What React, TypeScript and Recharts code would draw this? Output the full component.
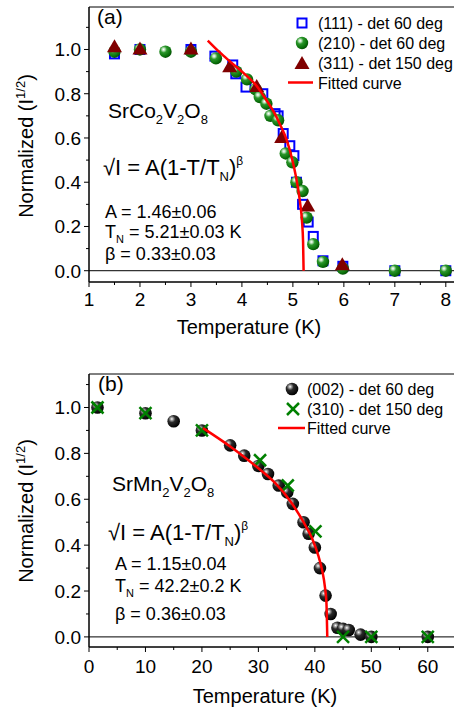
import React from "react";
import { ComposedChart, Scatter, Line, XAxis, YAxis, ReferenceLine, ReferenceArea } from "recharts";

const FONT = '"Liberation Sans", Arial, sans-serif';

// (a) SrCo2V2O8
const co111T = [1.5, 2, 3, 3.47, 3.82, 3.88, 4.08, 4.41, 4.65, 4.71, 4.81, 4.94, 5.02, 5.07, 5.19, 5.3, 5.4, 5.59, 5.98, 7, 8];
const co111V = [0.98, 1.0, 1.0, 0.97, 0.93, 0.89, 0.83, 0.8, 0.71, 0.7, 0.62, 0.565, 0.52, 0.4, 0.3, 0.22, 0.155, 0.045, 0.02, 0.0, 0.0];
const co210T = [1.5, 2, 2.5, 3, 3.49, 3.89, 4.1, 4.27, 4.35, 4.48, 4.56, 4.71, 4.86, 4.99, 5.07, 5.19, 5.27, 5.4, 5.59, 5.98, 7, 8];
const co210V = [0.99, 1.0, 0.99, 0.99, 0.96, 0.9, 0.865, 0.82, 0.785, 0.755, 0.7, 0.68, 0.53, 0.49, 0.4, 0.36, 0.24, 0.12, 0.04, 0.01, 0.0, 0.0];
const co311T = [1.5, 2, 3, 3.76, 4.29, 4.78, 5.29, 5.97];
const co311V = [1.01, 1.0, 1.0, 0.92, 0.83, 0.6, 0.29, 0.025];
const coFitT = [3.33, 3.55, 3.77, 4.05, 4.29, 4.47, 4.62, 4.75, 4.88, 5.0, 5.08, 5.14, 5.18, 5.2, 5.21];
const coFitV = [1.04, 0.99, 0.945, 0.89, 0.835, 0.775, 0.72, 0.66, 0.59, 0.49, 0.4, 0.31, 0.22, 0.13, 0.0];

// (b) SrMn2V2O8
const mn002T = [1.5, 10, 15, 20, 25, 27.5, 30, 31.7, 33.6, 35.1, 36.1, 38, 38.9, 40, 40.9, 41.9, 42.8, 44, 45, 46, 48.1, 50, 60];
const mn002V = [1.0, 0.975, 0.94, 0.9, 0.835, 0.79, 0.745, 0.71, 0.66, 0.63, 0.58, 0.5, 0.45, 0.39, 0.3, 0.18, 0.1, 0.04, 0.035, 0.03, 0.01, 0.0, 0.0];
const mn310T = [1.5, 10, 20, 30.3, 35.2, 40.1, 45, 50, 60];
const mn310V = [1.0, 0.975, 0.9, 0.77, 0.66, 0.46, 0.0, 0.0, 0.0];
const mnFitT = [20.2, 25, 30, 33, 35.7, 38, 39.5, 40.6, 41.3, 41.8, 42.05, 42.2];
const mnFitV = [0.91, 0.83, 0.735, 0.67, 0.59, 0.5, 0.43, 0.355, 0.29, 0.215, 0.15, 0.0];

const topXTicks = [1, 1.5, 2, 2.5, 3, 3.5, 4, 4.5, 5, 5.5, 6, 6.5, 7, 7.5, 8];
const botXTicks = [0, 5, 10, 15, 20, 25, 30, 35, 40, 45, 50, 55, 60];
const yTicks = [0, 0.1, 0.2, 0.3, 0.4, 0.5, 0.6, 0.7, 0.8, 0.9, 1.0, 1.1];

const topLegend = ["(111) - det 60 deg", "(210) - det 60 deg", "(311) - det 150 deg", "Fitted curve"];
const botLegend = ["(002) - det 60 deg", "(310) - det 150 deg", "Fitted curve"];

const zip = (t: number[], v: number[]) => t.map((x, i) => ({ t: x, v: v[i] }));

const Square = ({ cx, cy }: any) => (
  <rect x={cx - 4.5} y={cy - 4.5} width={9} height={9} fill="none" stroke="#0000ff" strokeWidth={2} />
);
const GreenBall = ({ cx, cy }: any) => <circle cx={cx} cy={cy} r={6.2} fill="url(#gball)" />;
const BlackBall = ({ cx, cy }: any) => <circle cx={cx} cy={cy} r={6.3} fill="url(#kball)" />;
const Tri = ({ cx, cy }: any) => (
  <polygon points={`${cx},${cy - 8} ${cx + 7.5},${cy + 5} ${cx - 7.5},${cy + 5}`} fill="#800000" />
);
const Cross = ({ cx, cy }: any) => (
  <g stroke="#008000" strokeWidth={2.5}>
    <line x1={cx - 6} y1={cy - 6} x2={cx + 6} y2={cy + 6} />
    <line x1={cx - 6} y1={cy + 6} x2={cx + 6} y2={cy - 6} />
  </g>
);

function XTick({ x, y, payload, step, off }: any) {
  const v = payload.value;
  const major = Math.abs(v / step - Math.round(v / step)) < 1e-6;
  return (
    <g>
      <line x1={x} x2={x} y1={y} y2={y + (major ? 5 : 3)} stroke="#000" />
      {major && (
        <text x={x} y={y + off} textAnchor="middle" fontSize={19} fontFamily={FONT} fill="#000">
          {v}
        </text>
      )}
    </g>
  );
}

function YTick({ x, y, payload }: any) {
  const v = payload.value;
  const major = Math.abs(v * 5 - Math.round(v * 5)) < 1e-6 && v < 1.05;
  return (
    <g>
      <line x1={x} x2={x - (major ? 5 : 3)} y1={y} y2={y} stroke="#000" />
      {major && (
        <text x={x - 8} y={y + 6.8} textAnchor="end" fontSize={19} fontFamily={FONT} fill="#000">
          {v.toFixed(1)}
        </text>
      )}
    </g>
  );
}

function Panel({ top, height, mTop, xH, xDomain, xTicks, step, off, yDomain, children }: any) {
  return (
    <div style={{ position: "absolute", left: 0, top }}>
      <ComposedChart width={456} height={height} margin={{ top: mTop, right: 0, bottom: 0, left: 0 }}>
        <ReferenceArea x1={xDomain[0]} x2={xDomain[1]} y1={yDomain[0]} y2={yDomain[1]} fill="none" stroke="#000" strokeWidth={1} ifOverflow="visible" />
        <XAxis type="number" dataKey="t" domain={xDomain} ticks={xTicks} interval={0} allowDataOverflow height={xH}
          tickSize={0} tickMargin={0} tickLine={false} axisLine={{ stroke: "#000" }}
          tick={(p: any) => <XTick {...p} step={step} off={off} />} />
        <YAxis type="number" dataKey="v" domain={yDomain} ticks={yTicks} interval={0} allowDataOverflow width={89}
          tickSize={0} tickMargin={0} tickLine={false} axisLine={{ stroke: "#000" }}
          tick={(p: any) => <YTick {...p} />} />
        <ReferenceLine y={0} stroke="#000" strokeWidth={1} />
        {children}
      </ComposedChart>
    </div>
  );
}

const txt = { fontFamily: FONT, fill: "#000" };

export default function App() {
  return (
    <div style={{ position: "absolute", left: 0, top: 0, width: 454, height: 709, overflow: "hidden", background: "#fff" }}>
      <svg width={0} height={0} style={{ position: "absolute" }}>
        <defs>
          <radialGradient id="gball" cx="35%" cy="32%" r="70%">
            <stop offset="0" stopColor="#ffffff" />
            <stop offset="0.15" stopColor="#bfe3bf" />
            <stop offset="0.38" stopColor="#2a962a" />
            <stop offset="0.8" stopColor="#0a700a" />
            <stop offset="1" stopColor="#045004" />
          </radialGradient>
          <radialGradient id="kball" cx="35%" cy="32%" r="70%">
            <stop offset="0" stopColor="#ffffff" />
            <stop offset="0.15" stopColor="#a8a8a8" />
            <stop offset="0.4" stopColor="#2a2a2a" />
            <stop offset="1" stopColor="#000000" />
          </radialGradient>
        </defs>
      </svg>

      <Panel top={0} height={340} mTop={7} xH={58} xDomain={[1, 8.2]} xTicks={topXTicks} step={1} off={24} yDomain={[-0.051, 1.192]}>
        <Scatter data={zip(co111T, co111V)} dataKey="v" shape={(p: any) => <Square {...p} />} isAnimationActive={false} />
        <Scatter data={zip(co210T, co210V)} dataKey="v" shape={(p: any) => <GreenBall {...p} />} isAnimationActive={false} />
        <Scatter data={zip(co311T, co311V)} dataKey="v" shape={(p: any) => <Tri {...p} />} isAnimationActive={false} />
        <Line data={zip(coFitT, coFitV)} dataKey="v" type="monotone" stroke="#ff0000" strokeWidth={2.5} dot={false} activeDot={false} isAnimationActive={false} zIndex={700} />
      </Panel>

      <Panel top={340} height={369} mTop={34} xH={62} xDomain={[0, 65]} xTicks={botXTicks} step={10} off={26} yDomain={[-0.044, 1.146]}>
        <Scatter data={zip(mn002T, mn002V)} dataKey="v" shape={(p: any) => <BlackBall {...p} />} isAnimationActive={false} />
        <Scatter data={zip(mn310T, mn310V)} dataKey="v" shape={(p: any) => <Cross {...p} />} isAnimationActive={false} />
        <Line data={zip(mnFitT, mnFitV)} dataKey="v" type="monotone" stroke="#ff0000" strokeWidth={2.5} dot={false} activeDot={false} isAnimationActive={false} zIndex={700} />
      </Panel>

      <svg width={454} height={709} style={{ position: "absolute", left: 0, top: 0, pointerEvents: "none" }}>
        {/* axis titles */}
        <text x={249} y={334} textAnchor="middle" fontSize={20} {...txt}>Temperature (K)</text>
        <text x={265} y={703} textAnchor="middle" fontSize={20} {...txt}>Temperature (K)</text>
        {[146, 511].map((cy) => (
          <text key={cy} x={33} y={cy} transform={`rotate(-90 33 ${cy})`} textAnchor="middle" fontSize={20} {...txt}>
            Normalized (I<tspan dy={-8} fontSize={13}>1/2</tspan><tspan dy={8} fontSize={20}>)</tspan>
          </text>
        ))}

        {/* panel (a) annotations */}
        <text x={97} y={24} fontSize={21} {...txt}>(a)</text>
        <text x={108} y={118} fontSize={21} {...txt}>
          SrCo<tspan dy={6} fontSize={13}>2</tspan><tspan dy={-6} fontSize={21}>V</tspan><tspan dy={6} fontSize={13}>2</tspan><tspan dy={-6} fontSize={21}>O</tspan><tspan dy={6} fontSize={13}>8</tspan>
        </text>
        <text x={103} y={175} fontSize={22} {...txt}>
          √I = A(1-T/T<tspan dy={6} fontSize={13}>N</tspan><tspan dy={-6} fontSize={22}>)</tspan><tspan dy={-10} fontSize={12}>β</tspan>
        </text>
        <text x={105} y={218} fontSize={18} {...txt}>A = 1.46±0.06</text>
        <text x={105} y={238} fontSize={18} {...txt}>
          T<tspan dy={5} fontSize={11}>N</tspan><tspan dy={-5} fontSize={18}> = 5.21±0.03 K</tspan>
        </text>
        <text x={105} y={260} fontSize={18} {...txt}>β = 0.33±0.03</text>

        {/* panel (a) legend */}
        <Square cx={302} cy={23} />
        <GreenBall cx={302} cy={43} />
        <Tri cx={302} cy={64} />
        <line x1={288} x2={313} y1={82.5} y2={82.5} stroke="#ff0000" strokeWidth={2.5} />
        {topLegend.map((s, i) => (
          <text key={s} x={318} y={[29, 49, 69, 89][i]} fontSize={16} {...txt}>{s}</text>
        ))}

        {/* panel (b) annotations */}
        <text x={98} y={391} fontSize={21} {...txt}>(b)</text>
        <text x={112} y={491} fontSize={21} {...txt}>
          SrMn<tspan dy={6} fontSize={13}>2</tspan><tspan dy={-6} fontSize={21}>V</tspan><tspan dy={6} fontSize={13}>2</tspan><tspan dy={-6} fontSize={21}>O</tspan><tspan dy={6} fontSize={13}>8</tspan>
        </text>
        <text x={108} y={540} fontSize={22} {...txt}>
          √I = A(1-T/T<tspan dy={6} fontSize={13}>N</tspan><tspan dy={-6} fontSize={22}>)</tspan><tspan dy={-10} fontSize={12}>β</tspan>
        </text>
        <text x={115} y={570} fontSize={18} {...txt}>A = 1.15±0.04</text>
        <text x={115} y={592} fontSize={18} {...txt}>
          T<tspan dy={5} fontSize={11}>N</tspan><tspan dy={-5} fontSize={18}> = 42.2±0.2 K</tspan>
        </text>
        <text x={115} y={620} fontSize={18} {...txt}>β = 0.36±0.03</text>

        {/* panel (b) legend */}
        <BlackBall cx={292} cy={389} />
        <Cross cx={293} cy={409} />
        <line x1={278} x2={305} y1={428} y2={428} stroke="#ff0000" strokeWidth={2.5} />
        {botLegend.map((s, i) => (
          <text key={s} x={307} y={[395, 415, 434][i]} fontSize={16} {...txt}>{s}</text>
        ))}
      </svg>
    </div>
  );
}
